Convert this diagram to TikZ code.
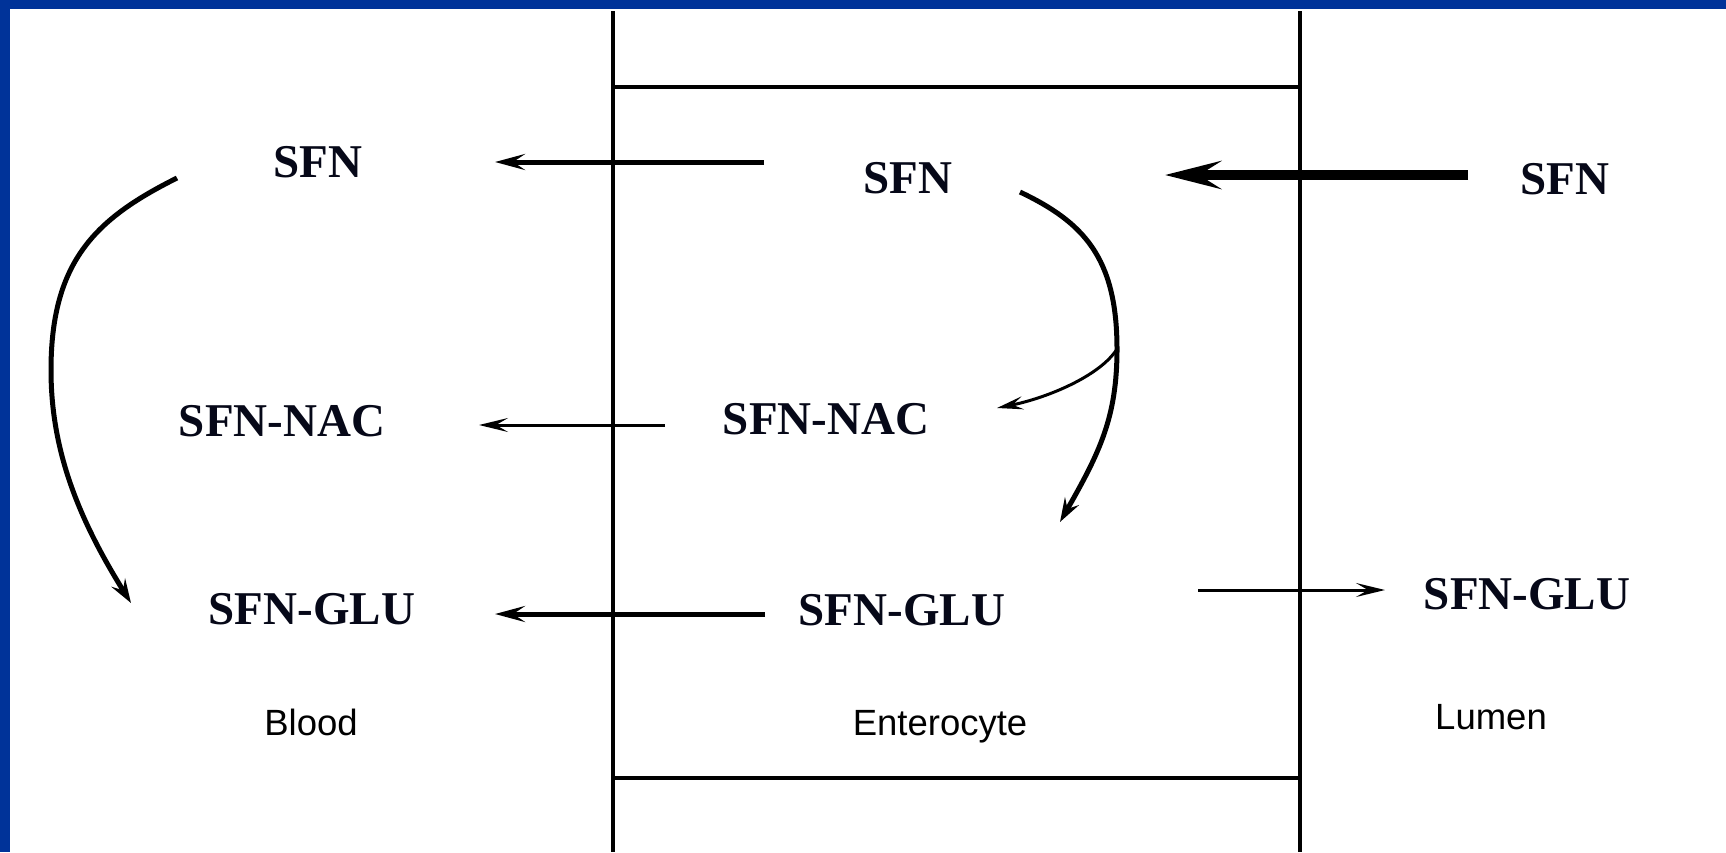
\documentclass[tikz,border=0pt]{standalone}
\usepackage{fontspec}
\setmainfont{Liberation Serif}
\newfontfamily\regionfont{Liberation Sans}
\usetikzlibrary{arrows.meta}
\definecolor{slideblue}{RGB}{0,51,153}
\definecolor{ink}{RGB}{6,8,24}
\begin{document}
\begin{tikzpicture}[x=1pt,y=-1pt,
  compound/.style={font=\fontsize{47}{50}\selectfont\bfseries, text=ink, inner sep=0pt, anchor=base},
  region/.style={font=\regionfont\fontsize{36.5}{40}\selectfont, text=black, inner sep=0pt, anchor=base},
  membrane/.style={line width=4pt},
  flowmid/.style={line width=5pt, -{Stealth[length=30pt,width=16pt,inset=12pt]}},
  flowthin/.style={line width=3pt, -{Stealth[length=29pt,width=14pt,inset=12pt]}},
  uptake/.style={line width=10pt, -{Stealth[length=56pt,width=28pt,inset=22pt]}},
  pathway/.style={line width=5pt, -{Stealth[length=24pt,width=16pt,inset=9pt]}},
  sidepath/.style={line width=3pt, -{Stealth[length=26pt,width=13pt,inset=10pt]}}
]
\useasboundingbox (0,0) rectangle (1726,852);
\fill[white] (0,0) rectangle (1726,852);
% slide frame
\fill[slideblue] (0,0) rectangle (1726,9);
\fill[slideblue] (0,0) rectangle (10,852);

% enterocyte membranes
\draw[membrane] (613,11) -- (613,852);
\draw[membrane] (1300,11) -- (1300,852);
\draw[membrane] (613,87) -- (1300,87);
\draw[membrane] (613,778) -- (1300,778);

% compounds
\node[compound] (bSFN) at (318,177) {SFN};
\node[compound] (bNAC) at (282,436) {SFN-NAC};
\node[compound] (bGLU) at (312,624) {SFN-GLU};
\node[compound] (eSFN) at (908,193) {SFN};
\node[compound] (eNAC) at (826,434) {SFN-NAC};
\node[compound] (eGLU) at (902,625) {SFN-GLU};
\node[compound] (lSFN) at (1565,194) {SFN};
\node[compound] (lGLU) at (1527,609) {SFN-GLU};

% compartments
\node[region] (blood) at (311,735) {Blood};
\node[region] (entero) at (940,735) {Enterocyte};
\node[region] (lumen) at (1491,729) {Lumen};

% arrow ends
\coordinate (lSFNout) at (1468,175);
\coordinate (eSFNin) at (1165,175);
\coordinate (eSFNout) at (764,162);
\coordinate (bSFNin) at (495,162);
\coordinate (eNACout) at (665,425);
\coordinate (bNACin) at (479,425);
\coordinate (eGLUout) at (765,614);
\coordinate (bGLUin) at (495,614);
\coordinate (eGLUlum) at (1198,590);
\coordinate (lGLUin) at (1385,590);
\coordinate (bConjStart) at (177,178);
\coordinate (bConjEnd) at (131,603);
\coordinate (eConjStart) at (1020,192);
\coordinate (fork) at (1117,349);
\coordinate (eConjEnd) at (1060,522);
\coordinate (eNACin) at (997,408);

% transport
\draw[uptake] (lSFNout) -- (eSFNin);
\draw[flowmid] (eSFNout) -- (bSFNin);
\draw[flowthin] (eNACout) -- (bNACin);
\draw[flowmid] (eGLUout) -- (bGLUin);
\draw[flowthin] (eGLUlum) -- (lGLUin);

% metabolism
\draw[pathway] (bConjStart) .. controls (97,218) and (51,260) .. (51,370)
  .. controls (51,450) and (78,518) .. (bConjEnd);
\draw[pathway] (eConjStart) .. controls (1083,222) and (1117,257) .. (fork)
  .. controls (1117,417) and (1100,452) .. (eConjEnd);
\draw[sidepath] (fork) .. controls (1100,376) and (1047,398) .. (eNACin);
\end{tikzpicture}
\end{document}
